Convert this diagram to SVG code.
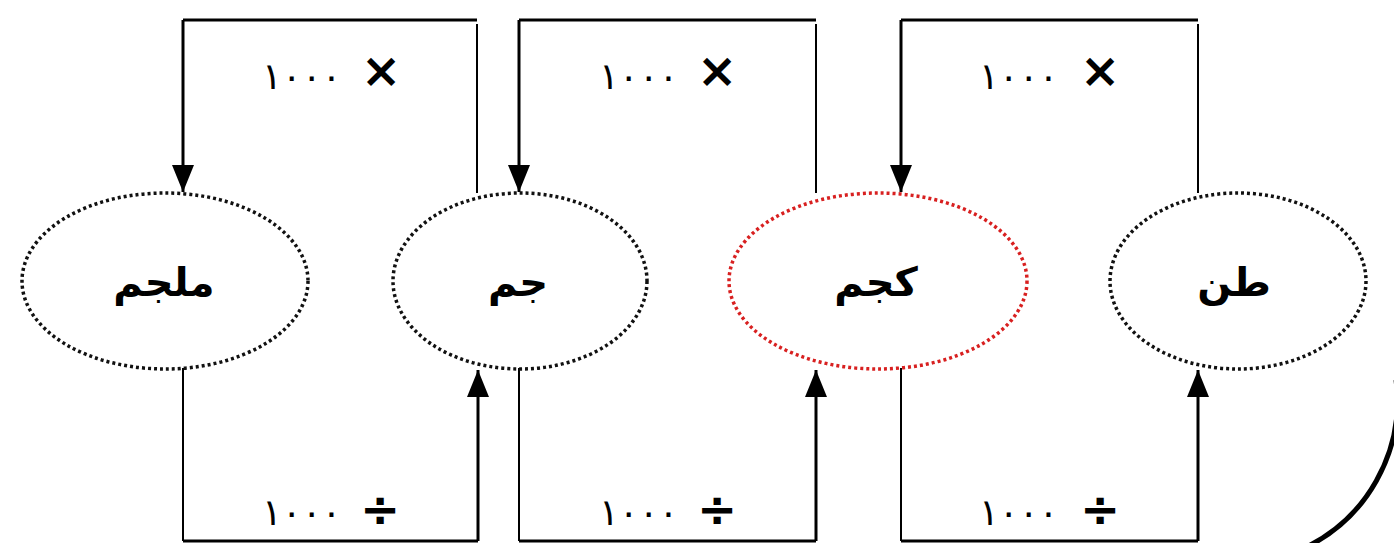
<svg xmlns="http://www.w3.org/2000/svg" width="1394" height="543" viewBox="0 0 1394 543">
<defs>
<marker id="ah" viewBox="0 0 27 22" refX="27" refY="11" markerWidth="27" markerHeight="22" markerUnits="userSpaceOnUse" orient="auto">
<path d="M0,0 L27,11 L0,22 z" fill="#000"/>
</marker>
<style>
.node{fill:none;stroke:#111;stroke-width:3.5;stroke-dasharray:3 3}
.red{stroke:#d82020}
.lbl{font-family:"DejaVu Sans",sans-serif;font-weight:bold;font-size:40px;fill:#000;text-anchor:middle}
.thick{fill:none;stroke:#000;stroke-width:3}
.thin{fill:none;stroke:#000;stroke-width:2}
.arr{fill:none;stroke:#000;stroke-width:3;marker-end:url(#ah)}
.num{font-family:"DejaVu Sans",sans-serif;font-size:37px;letter-spacing:1px;fill:#000}
.op{font-family:"DejaVu Sans",sans-serif;font-weight:bold;font-size:48px;fill:#000;text-anchor:middle}
</style>
</defs>
<rect width="1394" height="543" fill="#fff"/>
<g id="connectors">
<path class="thin" d="M477 193 V24"/>
<path class="thick" d="M477 20 H183"/>
<path class="arr" d="M183 20 V192"/>
<path class="thin" d="M183 368 V541"/>
<path class="thick" d="M183 541 H478"/>
<path class="arr" d="M478 541 V370"/>
<path class="thin" d="M816 193 V24"/>
<path class="thick" d="M816 20 H519"/>
<path class="arr" d="M519 20 V192"/>
<path class="thin" d="M519 368 V541"/>
<path class="thick" d="M519 541 H816"/>
<path class="arr" d="M816 541 V370"/>
<path class="thin" d="M1198 193 V24"/>
<path class="thick" d="M1198 20 H901"/>
<path class="arr" d="M901 20 V192"/>
<path class="thin" d="M901 368 V541"/>
<path class="thick" d="M901 541 H1198"/>
<path class="arr" d="M1198 541 V370"/>
<path d="M1396 380 A163 163 0 0 1 1300 550" fill="none" stroke="#000" stroke-width="5"/>
</g>
<g id="labels">
<text class="num" x="262" y="89">١٠٠٠</text><text class="op" x="381" y="87">×</text>
<text class="num" x="599" y="89">١٠٠٠</text><text class="op" x="717" y="87">×</text>
<text class="num" x="979" y="89">١٠٠٠</text><text class="op" x="1100" y="87">×</text>
<text class="num" x="262" y="525">١٠٠٠</text><text class="op" x="380" y="526">÷</text>
<text class="num" x="599" y="525">١٠٠٠</text><text class="op" x="717" y="526">÷</text>
<text class="num" x="979" y="525">١٠٠٠</text><text class="op" x="1100" y="526">÷</text>
</g>
<g id="n-mljm"><ellipse class="node" cx="165" cy="281" rx="143" ry="88"/><text class="lbl" x="164" y="296">ملجم</text></g>
<g id="n-jm"><ellipse class="node" cx="520" cy="281" rx="127" ry="88"/><text class="lbl" x="518" y="296">جم</text></g>
<g id="n-kjm"><ellipse class="node red" cx="878" cy="281" rx="149" ry="88"/><text class="lbl" x="876" y="296">كجم</text></g>
<g id="n-tn"><ellipse class="node" cx="1238" cy="281" rx="128" ry="88"/><text class="lbl" x="1234" y="296">طن</text></g>
</svg>
